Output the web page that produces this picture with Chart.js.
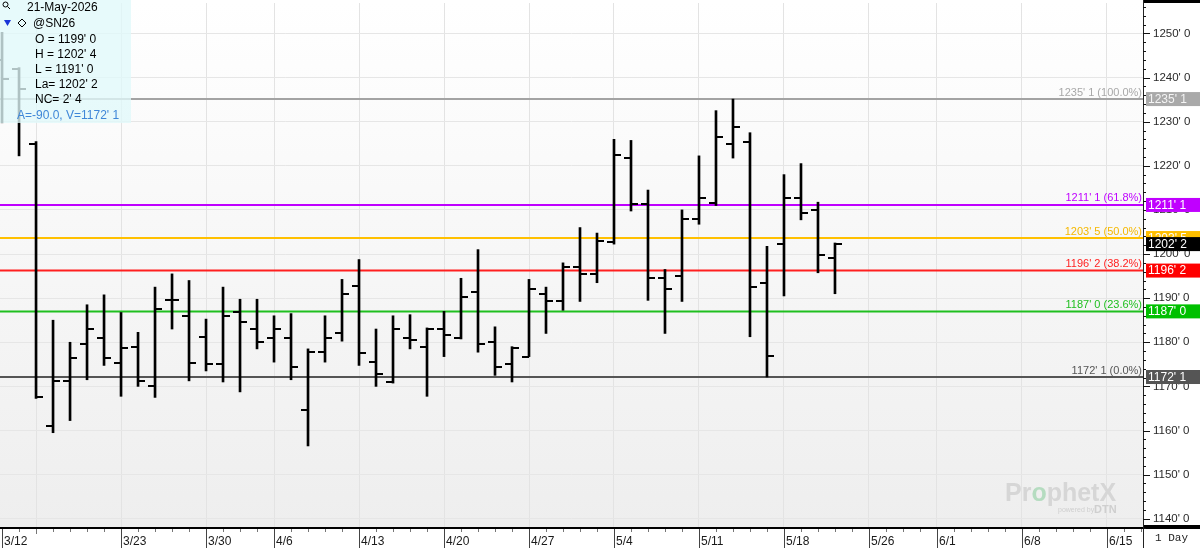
<!DOCTYPE html>
<html>
<head>
<meta charset="utf-8">
<script src="https://cdn.jsdelivr.net/npm/chart.js@4.4.1/dist/chart.umd.min.js"></script>
<style>
html,body{margin:0;padding:0;background:#fff;overflow:hidden}
#wrap{width:1200px;height:548px;position:relative}
</style>
</head>
<body>
<div id="wrap"><canvas id="chart"></canvas></div>
<script>
// trading days shown on the axis (3/12 .. 6/17), bars exist for the first 50
const days = ['3/12','3/13','3/16','3/17','3/18','3/19','3/20','3/23','3/24','3/25','3/26','3/27',
  '3/30','3/31','4/1','4/2','4/6','4/7','4/8','4/9','4/10','4/13','4/14','4/15','4/16','4/17',
  '4/20','4/21','4/22','4/23','4/24','4/27','4/28','4/29','4/30','5/1','5/4','5/5','5/6','5/7','5/8',
  '5/11','5/12','5/13','5/14','5/15','5/18','5/19','5/20','5/21','5/22','5/26','5/27','5/28','5/29',
  '6/1','6/2','6/3','6/4','6/5','6/8','6/9','6/10','6/11','6/12','6/15','6/16','6/17'];

const opens  = [1244,1242,1225,1161,1171.25,1179.5,1181,1175.25,1179,1170,1189.5,1186,
  1181.25,1175,1186.75,1183,1181,1181,1164.75,1177.75,1182,1192.75,1175.5,1171,1181,1179,
  1183,1181,1191.5,1180,1175,1176.75,1191,1189.25,1197,1195.5,1202.75,1221.75,1211.25,1194.5,1195,
  1208,1211.5,1225,1225.5,1193.5,1202.25,1212.75,1210,1199];
const highs  = [1250.25,1242.25,1225.5,1185,1180,1188.5,1190.75,1186.75,1182.25,1192.5,1195.5,1194,
  1185.25,1192.5,1189.75,1189.75,1186,1186.5,1178.5,1186,1194.25,1198.75,1183,1186,1186.25,1183.25,
  1187,1194.5,1201,1183.5,1179,1194.25,1192.5,1198,1206,1204.75,1226,1225.75,1214.5,1196.5,1210,
  1222.25,1232.5,1235.125,1227.5,1201.75,1218,1220.5,1211.75,1202.5];
const lows   = [1229.75,1222.25,1167.25,1159.5,1162.25,1171.5,1174.75,1167.75,1170,1167.5,1183,1171.25,
  1173.5,1171,1168.75,1178.5,1175.5,1171.5,1156.5,1175.5,1180.25,1174.75,1170,1170.75,1178.5,1167.75,
  1176.75,1180.75,1177.75,1172.5,1171,1176.75,1182,1187.25,1189.25,1193.5,1202.25,1209.75,1189.5,1182,1189.25,
  1206.75,1211,1221.75,1181.25,1172.125,1190.5,1207.75,1195.75,1191];
const closes = [1239.75,1237.5,1167.5,1171.25,1176.5,1183,1176.5,1178.75,1171.25,1187.5,1189.5,1175.25,
  1175,1186,1184.5,1180,1183,1174.5,1177.75,1181,1191,1177.5,1172.75,1183,1180.5,1183,
  1181.75,1190.25,1179.5,1174.5,1178.75,1192,1189.25,1197,1195.5,1203,1222.5,1211.25,1194.5,1192,1208,
  1212.75,1226.5,1228.75,1192.5,1177,1212.75,1209.25,1199.75,1202.25];

const tickDays = ['3/12','3/23','3/30','4/6','4/13','4/20','4/27','5/4','5/11','5/18','5/26','6/1','6/8','6/15'];
const gridDays = ['3/16','3/23','3/30','4/6','4/13','4/20','4/27','5/4','5/11','5/18','5/26','6/1','6/8','6/15'];

const fibPct    = ['100.0%','61.8%','50.0%','38.2%','23.6%','0.0%'];
const fibLevels = [1235.125,1211.125,1203.625,1196.25,1187,1172.125];

const symbol = '@SN26';
const asOf = '21-May-2026';

// styles
const fibLine = ['#a3a3a3','#bf00ff','#ffc000','#ff1f1f','#1fbf1f','#555555'];
const fibText = ['#a8a8a8','#bf00ff','#f5b800','#ff1f1f','#1fbf1f','#555555'];
const fibBox  = ['#a9a9a9','#c000ff','#ffbf00','#ff0000','#00c000','#555555'];
const FONT = '"Liberation Sans", Arial, sans-serif';

const X_MIN = -0.12, X_MAX = 67.12, Y_MIN = 1137.9, Y_MAX = 1256.9;

function fmt(v){
  let w = Math.floor(v + 1e-9);
  let e = Math.round((v - w) * 8);
  if (e === 8) { w++; e = 0; }
  return w + "' " + e;
}

const idxOf = d => days.indexOf(d);
const labelIdx = tickDays.map(idxOf);
const gridIdx = gridDays.map(idxOf);
const xTicks = [...new Set(labelIdx.concat(gridIdx))].sort((a,b) => a-b);

function tickImg(side){
  const c = document.createElement('canvas');
  c.width = 14; c.height = 2;
  const g = c.getContext('2d');
  g.fillStyle = '#000';
  g.fillRect(side < 0 ? 0 : 7, 0, 7, 2);
  return c;
}

const barData = opens.map((o,i) => ({x:i, y:[lows[i], highs[i]]}));
const openData = opens.map((o,i) => ({x:i, y:o}));
const closeData = closes.map((c,i) => ({x:i, y:c}));

const fibSets = fibLevels.map((v,k) => ({
  type:'line',
  data:[{x:X_MIN, y:v},{x:X_MAX, y:v}],
  borderColor:fibLine[k],
  borderWidth:2,
  pointRadius:0,
  order:5
}));

const frame = {
  id:'frame',
  beforeDraw(chart){
    const {ctx, chartArea:a} = chart;
    ctx.save();
    ctx.fillStyle = '#fff';
    ctx.fillRect(0,0,chart.width,chart.height);
    const g = ctx.createLinearGradient(0,a.top,0,a.bottom);
    g.addColorStop(0,'#ffffff');
    g.addColorStop(1,'#eeeeee');
    ctx.fillStyle = g;
    ctx.fillRect(a.left,a.top,a.right-a.left,a.bottom-a.top);
    ctx.restore();
  },
  beforeDatasetsDraw(chart){
    const {ctx} = chart;
    ctx.save();
    ctx.textBaseline = 'alphabetic';
    ctx.font = 'bold 25px ' + FONT;
    let x = 1005;
    const parts = [['Pr','#d6d6d6'],['o','#b5dcc0'],['phetX','#d6d6d6']];
    parts.forEach(p => {
      ctx.fillStyle = p[1];
      ctx.fillText(p[0], x, 501);
      x += ctx.measureText(p[0]).width;
    });
    ctx.fillStyle = '#cfcfcf';
    ctx.font = '7px ' + FONT;
    ctx.fillText('powered by', 1058, 512);
    ctx.font = 'bold 11px ' + FONT;
    ctx.fillText('DTN', 1094, 513);
    ctx.restore();
  },
  afterDraw(chart){
    const {ctx, chartArea:a, scales} = chart;
    const xs = scales.x, ys = scales.y;
    const W = chart.width, H = chart.height;
    ctx.save();

    // fib labels over the plot
    ctx.font = '11px ' + FONT;
    ctx.textAlign = 'right';
    ctx.textBaseline = 'bottom';
    fibLevels.forEach((v,k) => {
      const y = ys.getPixelForValue(v);
      ctx.fillStyle = fibText[k];
      ctx.fillText(fmt(v) + ' (' + fibPct[k] + ')', a.right - 1, y - 1);
    });

    // frame
    ctx.fillStyle = '#000';
    ctx.fillRect(0, a.bottom - 1, W, 2);
    ctx.fillRect(a.right, a.bottom - 3, W - a.right, 4);
    ctx.fillRect(a.right, 0, W - a.right, 3);
    ctx.fillStyle = '#222';
    ctx.fillRect(a.right, 0, 1, H);

    // price axis ticks
    ctx.fillStyle = '#111';
    for (let v = Math.ceil(Y_MIN/2)*2; v <= Y_MAX; v += 2) {
      const y = Math.round(ys.getPixelForValue(v));
      ctx.fillRect(a.right, y, v % 10 === 0 ? 7 : 3, 1);
    }

    // date axis ticks and separators
    for (let i = 0; i < days.length; i++) {
      const x = Math.round(xs.getPixelForValue(i));
      if (x >= a.right) continue;
      ctx.fillStyle = '#777';
      ctx.fillRect(x, a.bottom + 1, 1, gridIdx.includes(i) ? 5 : 3);
    }
    ctx.fillStyle = '#444';
    labelIdx.forEach(i => {
      const x = Math.round(xs.getPixelForValue(i));
      ctx.fillRect(x, a.bottom + 1, 1, H - a.bottom);
    });

    // price boxes on the axis
    ctx.textAlign = 'left';
    ctx.textBaseline = 'middle';
    ctx.font = '12px ' + FONT;
    const boxes = fibLevels.map((v,k) => [v, fibBox[k], k === 0 ? '#f4f4f4' : '#fff']);
    boxes.push([closes[closes.length-1], '#000', '#fff']);
    boxes.forEach(b => {
      const y = ys.getPixelForValue(b[0]);
      ctx.fillStyle = b[1];
      ctx.fillRect(a.right + 3, y - 7, W - a.right - 3, 14);
      ctx.fillStyle = b[2];
      ctx.fillText(fmt(b[0]), a.right + 5, y + 0.5);
    });

    // period label
    ctx.fillStyle = '#222';
    ctx.font = '11px "Liberation Mono", monospace';
    ctx.fillText('1 Day', a.right + 12, 538);

    // info box
    ctx.fillStyle = 'rgba(224,248,250,0.78)';
    ctx.fillRect(0, 0, 131, 123);
    ctx.strokeStyle = '#000';
    ctx.lineWidth = 1;
    ctx.beginPath();
    ctx.arc(5.5, 4.5, 2.5, 0, Math.PI*2);
    ctx.moveTo(7.5, 6.5); ctx.lineTo(10, 9);
    ctx.stroke();
    ctx.fillStyle = '#1a35d8';
    ctx.beginPath();
    ctx.moveTo(4, 20); ctx.lineTo(11, 20); ctx.lineTo(7.5, 26); ctx.closePath();
    ctx.fill();
    ctx.beginPath();
    ctx.moveTo(22, 19); ctx.lineTo(26, 23); ctx.lineTo(22, 27); ctx.lineTo(18, 23); ctx.closePath();
    ctx.stroke();

    const n = closes.length - 1;
    ctx.font = '12px ' + FONT;
    ctx.fillStyle = '#000';
    ctx.fillText(asOf, 27, 8);
    ctx.fillText(symbol, 33, 24);
    ctx.fillText('O = ' + fmt(opens[n]), 35, 40);
    ctx.fillText('H = ' + fmt(highs[n]), 35, 55);
    ctx.fillText('L = ' + fmt(lows[n]), 35, 70);
    ctx.fillText('La= ' + fmt(closes[n]), 35, 85);
    ctx.fillText('NC= ' + fmt(closes[n] - closes[n-1]), 35, 100);
    ctx.fillStyle = '#3f87d8';
    ctx.fillText('A=-90.0, V=' + fmt(fibLevels[fibLevels.length-1]), 17, 116);
    ctx.restore();
  }
};

function noPad(s){
  s.paddingTop = 0; s.paddingBottom = 0; s.paddingLeft = 0; s.paddingRight = 0;
}

new Chart(document.getElementById('chart'), {
  type:'bar',
  data:{
    datasets:[
      {
        type:'bar',
        data:barData,
        backgroundColor:'#000',
        borderWidth:0,
        barThickness:2,
        order:1
      },
      {
        type:'line',
        data:openData,
        showLine:false,
        pointStyle:tickImg(-1),
        pointRadius:3,
        order:0
      },
      {
        type:'line',
        data:closeData,
        showLine:false,
        pointStyle:tickImg(1),
        pointRadius:3,
        order:0
      },
      ...fibSets
    ]
  },
  options:{
    responsive:true,
    maintainAspectRatio:false,
    animation:false,
    devicePixelRatio:1,
    events:[],
    layout:{autoPadding:false, padding:{top:3, left:0, right:0, bottom:0}},
    plugins:{legend:{display:false}, tooltip:{enabled:false}},
    scales:{
      x:{
        type:'linear',
        position:'bottom',
        min:X_MIN,
        max:X_MAX,
        offset:false,
        afterFit(s){ s.height = 20; noPad(s); },
        afterBuildTicks(s){ s.ticks = xTicks.map(v => ({value:v})); },
        grid:{
          offset:false,
          drawTicks:false,
          color:c => (c.tick && gridIdx.includes(c.tick.value)) ? '#e3e3e3' : 'rgba(0,0,0,0)',
          lineWidth:1
        },
        border:{display:false},
        ticks:{
          autoSkip:false,
          maxRotation:0,
          align:'start',
          labelOffset:2,
          padding:6,
          color:'#1a1a1a',
          font:{family:FONT, size:12},
          callback:v => labelIdx.includes(v) ? days[v] : ''
        }
      },
      y:{
        type:'linear',
        position:'right',
        min:Y_MIN,
        max:Y_MAX,
        beginAtZero:false,
        afterFit(s){ s.width = 57; noPad(s); },
        grid:{
          drawTicks:false,
          color:c => (c.tick && Math.abs(c.tick.value % 10) < 1e-6) ? '#e6e6e6' : 'rgba(0,0,0,0)',
          lineWidth:1
        },
        border:{display:false},
        ticks:{
          stepSize:2,
          autoSkip:false,
          padding:10,
          color:'#2a2a2a',
          font:{family:FONT, size:11.5},
          callback:v => Math.abs(v % 10) < 1e-6 ? fmt(v) : ''
        }
      }
    }
  },
  plugins:[frame]
});
</script>
</body>
</html>
